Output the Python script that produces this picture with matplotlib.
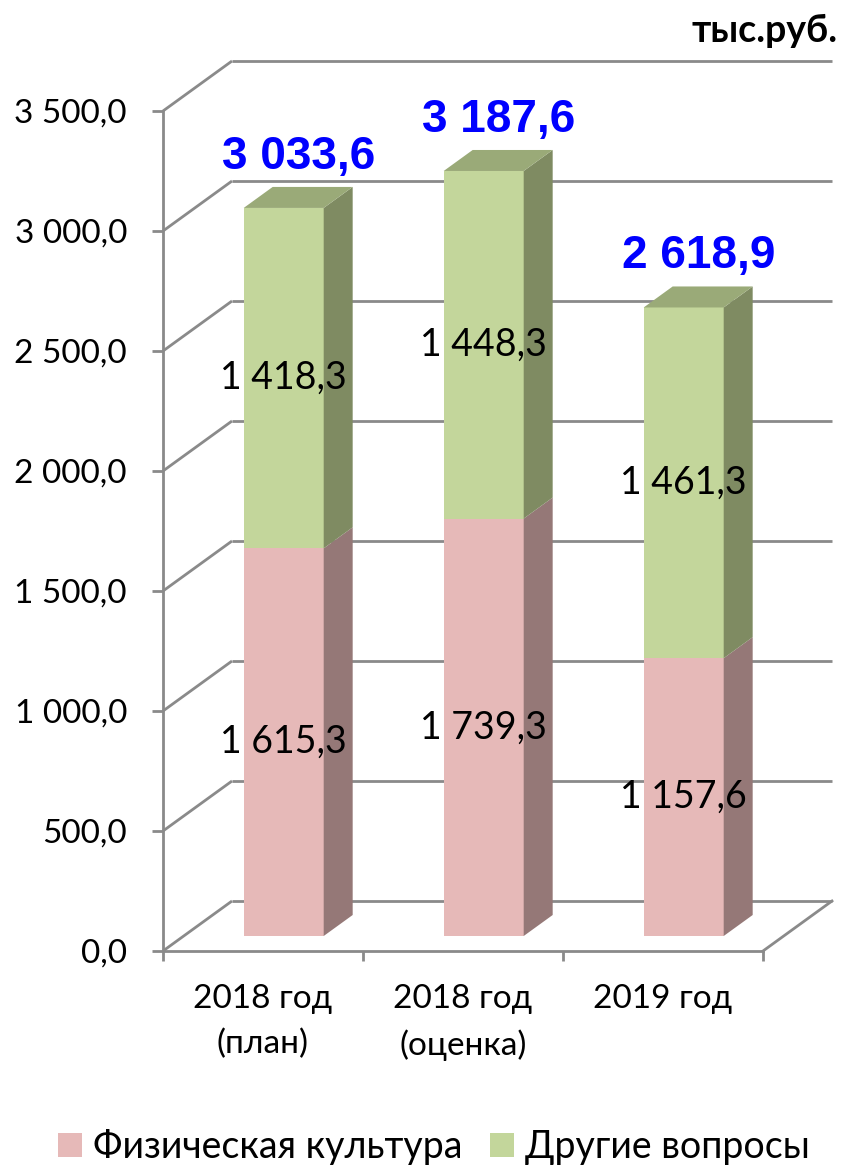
import matplotlib
matplotlib.use('Agg')
import matplotlib.pyplot as plt
from matplotlib.patches import Polygon, Patch

# ---------------- data ----------------
categories = ['2018 год\n(план)', '2018 год\n(оценка)', '2019 год']
phys_culture = [1615.3, 1739.3, 1157.6]
other_issues = [1418.3, 1448.3, 1461.3]
totals = [3033.6, 3187.6, 2618.9]
series_names = ['Физическая культура', 'Другие вопросы']
y_ticks = [0, 500, 1000, 1500, 2000, 2500, 3000, 3500]
y_tick_labels = ['0,0', '500,0', '1 000,0', '1 500,0', '2 000,0',
                 '2 500,0', '3 000,0', '3 500,0']
unit_label = 'тыс.руб.'


def fmt(v):
    s = f'{v:,.1f}'
    return s.replace(',', ' ').replace('.', ',')


# ---------------- style ----------------
FONT = ['Lato', 'Open Sans', 'DejaVu Sans']
BOLD_NUM = ['Liberation Sans', 'DejaVu Sans']
plt.rcParams['font.family'] = FONT

PINK, PINK_SIDE = '#E6B9B8', '#957877'
GREEN, GREEN_SIDE, GREEN_TOP = '#C3D69B', '#7F8B62', '#9AAA78'
GRID = '#8A8A8A'
LW = 2.0
BLUE = '#0000FF'

W, H = 842, 1166
fig = plt.figure(figsize=(W / 100, H / 100), dpi=100)
ax = fig.add_axes([0, 0, 1, 1])

PX_X = 200.0      # pixels per category
PX_Y = 0.24       # pixels per value unit
X0, Y0 = 263, 951  # pixel position of category 0 / value 0 on the front plane
ax.set_xlim(-X0 / PX_X, (W - X0) / PX_X)
ax.set_ylim(-(H - Y0) / PX_Y, Y0 / PX_Y)

DX = 69 / PX_X    # full depth in data units
DY = 50 / PX_Y
f0, f1 = 0.30, 0.72
BW = 0.40

xmin, xmax = -0.5, len(categories) - 0.5

# walls / floor grid
for v in y_ticks:
    ax.plot([xmin, xmin + DX], [v, v + DY], color=GRID, lw=LW, zorder=1,
            solid_capstyle='butt')
    ax.plot([xmin + DX, xmax + DX], [v + DY, v + DY], color=GRID, lw=LW,
            zorder=1, solid_capstyle='butt')
ax.plot([xmax, xmax + DX], [0, DY], color=GRID, lw=LW, zorder=1)

# bars
xs = [i + f0 * DX for i in range(len(categories))]
base = f0 * DY
ddx, ddy = (f1 - f0) * DX, (f1 - f0) * DY
ax.bar(xs, phys_culture, width=BW, bottom=base, color=PINK, zorder=3,
       linewidth=0)
bot2 = [base + p for p in phys_culture]
ax.bar(xs, other_issues, width=BW, bottom=bot2, color=GREEN, zorder=3,
       linewidth=0)

for i, xc in enumerate(xs):
    xl, xr = xc - BW / 2, xc + BW / 2
    segs = [(base, base + phys_culture[i], PINK_SIDE),
            (bot2[i], bot2[i] + other_issues[i], GREEN_SIDE)]
    for b, t, c in segs:
        ax.add_patch(Polygon([(xr, b), (xr + ddx, b + ddy), (xr + ddx, t + ddy),
                              (xr, t)], closed=True, facecolor=c,
                             edgecolor='none', zorder=3))
    T = base + totals[i]
    ax.add_patch(Polygon([(xl, T), (xr, T), (xr + ddx, T + ddy),
                          (xl + ddx, T + ddy)], closed=True,
                         facecolor=GREEN_TOP, edgecolor='none', zorder=3))
    # segment labels
    ax.text(xc, base + phys_culture[i] / 2, fmt(phys_culture[i]),
            ha='center', va='center', fontsize=27, color='black', zorder=5)
    ax.text(xc, bot2[i] + other_issues[i] / 2, fmt(other_issues[i]),
            ha='center', va='center', fontsize=27, color='black', zorder=5)
    # totals
    ax.text(xc + ddx / 2, T + ddy + 18 / PX_Y, fmt(totals[i]),
            ha='center', va='baseline', fontsize=33, fontweight='bold',
            color=BLUE, family=BOLD_NUM, zorder=5)

# axes spines and ticks
for s in ['top', 'right']:
    ax.spines[s].set_visible(False)
ax.spines['left'].set_position(('data', xmin))
ax.spines['left'].set_bounds(0, y_ticks[-1])
ax.spines['bottom'].set_position(('data', 0))
ax.spines['bottom'].set_bounds(xmin, xmax)
for s in ['left', 'bottom']:
    ax.spines[s].set_color(GRID)
    ax.spines[s].set_linewidth(LW)
    ax.spines[s].set_zorder(2)

ax.set_yticks(y_ticks, y_tick_labels)
ax.tick_params(axis='y', direction='out', length=8, width=LW, color=GRID,
               pad=18, labelsize=24)
ax.set_xticks([xmin + k for k in range(len(categories) + 1)],
              [''] * (len(categories) + 1))
ax.set_xticks(range(len(categories)), categories, minor=True)
ax.tick_params(axis='x', which='major', direction='out', length=7, width=LW,
               color=GRID)
ax.tick_params(axis='x', which='minor', length=0, pad=24, labelsize=24)
for lbl in ax.get_xticklabels(minor=True):
    lbl.set_linespacing(1.6)

# unit label
fig.text(838 / W, 1 - 42 / H, unit_label, ha='right', va='baseline',
         fontsize=27, fontweight='bold')

# legend
handles = [Patch(facecolor=PINK, edgecolor='none'),
           Patch(facecolor=GREEN, edgecolor='none')]
fig.legend(handles, series_names, loc='center',
           bbox_to_anchor=(434 / W, 1 - 1147 / H),
           ncol=2, frameon=False, fontsize=27, handlelength=0.62,
           handleheight=0.62, handletextpad=0.3, columnspacing=0.75,
           borderpad=0)

fig.savefig('out.png', dpi=100)
